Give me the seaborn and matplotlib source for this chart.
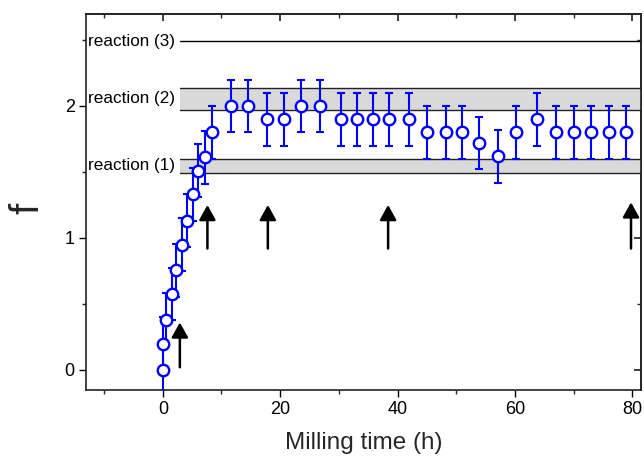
import matplotlib
matplotlib.use("Agg")
import matplotlib.pyplot as plt
import seaborn as sns
import pandas as pd
import numpy as np

# ---- data ----
time_h = [0, 0.1, 0.5, 1.5, 2.3, 3.2, 4.2, 5.1, 6.0, 7.2, 8.4,
          11.7, 14.6, 17.7, 20.7, 23.5, 26.8, 30.3, 33.1, 35.9, 38.6,
          41.9, 45.0, 48.3, 51.0, 53.9, 57.2, 60.2, 63.7, 67.0, 70.0,
          72.9, 76.0, 79.0]
f_val = [0.0, 0.2, 0.38, 0.575, 0.755, 0.95, 1.13, 1.33, 1.51, 1.61, 1.80,
         2.0, 2.0, 1.9, 1.9, 2.0, 2.0, 1.9, 1.9, 1.9, 1.9,
         1.9, 1.8, 1.8, 1.8, 1.72, 1.62, 1.8, 1.9, 1.8, 1.8,
         1.8, 1.8, 1.8]
f_err = [0.2] * len(time_h)

arrow_x = [2.9, 7.6, 17.9, 38.4, 79.8]
arrow_tail = [0.02, 0.92, 0.92, 0.92, 0.92]
arrow_tip = [0.36, 1.25, 1.25, 1.25, 1.27]

band_labels = ["reaction (1)", "reaction (2)", "reaction (3)"]
band_low = [1.495, 1.97, 2.49]
band_high = [1.597, 2.14, 2.49]

x_ticks = [0, 20, 40, 60, 80]
y_ticks = [0, 1, 2]

df = pd.DataFrame({"time": time_h, "f": f_val, "err": f_err})

# ---- style ----
sns.set_theme(style="ticks")
plt.rcParams["font.family"] = ["Liberation Sans", "DejaVu Sans"]

fig = plt.figure(figsize=(6.44, 4.58), dpi=100)
ax = fig.add_axes([0.1335, 0.1485, 0.8618, 0.8209])

xmin, xmax = -13.1, 81.5
ax.set_xlim(xmin, xmax)
ax.set_ylim(-0.152, 2.697)

# bands
band_x0 = 2.9
for lab, lo, hi in zip(band_labels, band_low, band_high):
    if hi > lo:
        ax.fill_between([band_x0, xmax], lo, hi, color="#d9d9d9", lw=0, zorder=1)
        ax.plot([band_x0, xmax], [lo, lo], color="#222222", lw=1.0, zorder=1.5)
        ax.plot([band_x0, xmax], [hi, hi], color="#222222", lw=1.0, zorder=1.5)
    else:
        ax.plot([band_x0, xmax], [lo, lo], color="black", lw=1.0, zorder=1.5)
    ax.text(0.004, (lo + hi) / 2, lab, transform=ax.get_yaxis_transform(),
            ha="left", va="center", fontsize=12.3, color="black")

# error bars
ax.errorbar(df["time"], df["f"], yerr=df["err"], fmt="none", ecolor="#0000ff",
            elinewidth=1.5, capsize=2.8, capthick=1.5, zorder=3)
sns.scatterplot(data=df, x="time", y="f", ax=ax, marker="o", s=68,
                facecolor="white", edgecolor="#0000ff", linewidth=1.7,
                zorder=4, legend=False)

# arrows
for xa, t0, t1 in zip(arrow_x, arrow_tail, arrow_tip):
    ax.annotate("", xy=(xa, t1), xytext=(xa, t0),
                arrowprops=dict(arrowstyle="-|>,head_length=0.45,head_width=0.25",
                                mutation_scale=20, color="black", lw=1.8,
                                shrinkA=0, shrinkB=0), zorder=5)

# ticks
ax.set_xticks(x_ticks)
ax.set_xticks([-10, 10, 30, 50, 70], minor=True)
ax.set_yticks(y_ticks)
ax.set_yticks([0.5, 1.5, 2.5], minor=True)
ax.tick_params(axis="both", which="major", direction="out", length=5, width=1.0,
               labelsize=13, colors="black", pad=3)
ax.tick_params(axis="both", which="minor", direction="out", length=3, width=1.0)

secx = ax.secondary_xaxis("top")
secx.set_xticks(x_ticks)
secx.set_xticks([-10, 10, 30, 50, 70], minor=True)
secx.tick_params(which="major", direction="in", length=5, labeltop=False)
secx.tick_params(which="minor", direction="in", length=3)
secy = ax.secondary_yaxis("right")
secy.set_yticks(y_ticks)
secy.set_yticks([0.5, 1.5, 2.5], minor=True)
secy.tick_params(which="major", direction="in", length=5, labelright=False)
secy.tick_params(which="minor", direction="in", length=3)

for sp in ax.spines.values():
    sp.set_linewidth(1.2)
    sp.set_color("#222222")
for s in [secx, secy]:
    for sp in s.spines.values():
        sp.set_linewidth(1.2)
        sp.set_color("#222222")

ax.set_xlabel("Milling time (h)", fontsize=17.5, labelpad=10)
ax.set_ylabel("f", fontsize=29, labelpad=13)
ax.yaxis.label.set_y(0.484)

fig.savefig("out.png", dpi=100)
